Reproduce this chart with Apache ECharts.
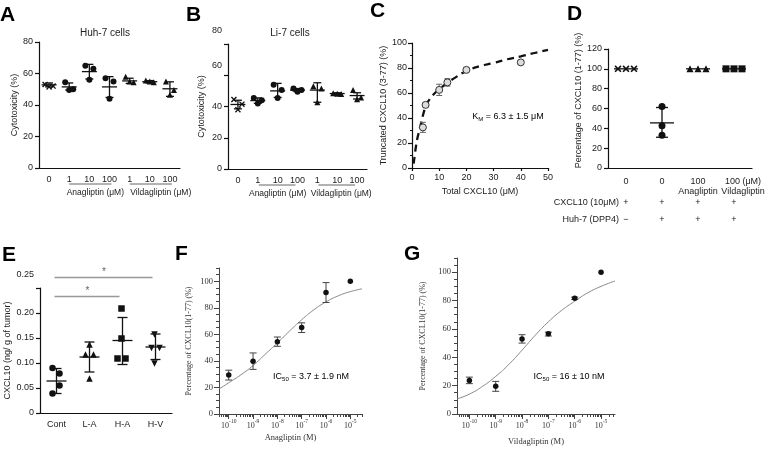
<!DOCTYPE html>
<html>
<head>
<meta charset="utf-8">
<script src="https://cdn.jsdelivr.net/npm/echarts@6.0.0/dist/echarts.min.js"></script>
<style>
  html, body { margin: 0; padding: 0; background: #fff; }
  #main { width: 766px; height: 454px; }
</style>
</head>
<body>
<div id="main"></div>
<script>
// ---------- data ----------
// A / B : cytotoxicity (%), three wells per group
const abTicks = ['0', '1', '10', '100', '1', '10', '100'];
const abGroups = [[1, 3, 'Anagliptin (μM)'], [4, 6, 'Vildagliptin (μM)']];
const abSymbols = ['x', 'circle', 'circle', 'circle', 'triangle', 'triangle', 'triangle'];

const huhVals = [[53, 52, 51.5], [54.5, 50, 49.5], [65, 63, 56], [57, 55, 44], [58, 54.5, 55], [55.5, 54.5, 55], [55, 49.5, 46.5]];
const huhMean = [52.8, 51.5, 61.2, 51.5, 55.3, 54.8, 50.3];
const huhSd = [[51.5, 54], [49.5, 54], [56.5, 65.8], [44.8, 58], [53.7, 57], [54, 55.5], [45.5, 54.7]];

const li7Vals = [[44.5, 41.5, 38], [45.5, 44, 42], [54, 50.5, 45.5], [51.5, 50.5, 49.5], [53, 51.5, 42.7], [48.5, 48, 48.2], [50.5, 45.8, 44.6]];
const li7Mean = [41.3, 43.8, 50, 50.5, 50.5, 48.3, 47];
const li7Sd = [[38.5, 44], [42, 45.5], [45.8, 54.8], [49.5, 51.5], [42.7, 55.2], [47.8, 48.8], [44.8, 48.8]];

// C : truncation vs total CXCL10
const cxclTotal = [4, 5, 10, 13, 20, 40];
const cxclTrunc = [32.5, 50.5, 62.5, 68.5, 78.5, 84.5];
const cxclErr = [4, 1.5, 4.5, 3, 1.5, 1.5];
const kmFitX = [0.6, 1, 1.5, 2, 2.7, 3, 4, 5, 6, 8, 10, 13, 16, 20, 25, 30, 35, 40, 45, 50];
const kmFitY = [3.5, 10, 18, 24, 30, 32.5, 42, 49, 53.5, 59, 63, 68, 72.5, 77.5, 81.5, 84, 87, 89.3, 92, 94.5];

// D : CXCL10 (1-77) remaining
const dTicks = ['0', '0', '100\nAnagliptin', '100 (μM)\nVildagliptin'];
const dSymbols = ['x', 'circle', 'triangle', 'rect'];
const dVals = [[100, 100, 100], [62, 42.5, 33], [100, 100, 100], [100, 100, 100]];
const dMean = [100, 45.5, 100, 100];
const dSd = [[100, 100], [31, 61], [100, 100], [100, 100]];
const dRowNames = ['CXCL10 (10μM)', 'Huh-7 (DPP4)'];
const dRowSigns = [['+', '−'], ['+', '+'], ['+', '+'], ['+', '+']];

// E : CXCL10 in tumour
const eTicks = ['Cont', 'L-A', 'H-A', 'H-V'];
const eSymbols = ['circle', 'triangle', 'rect', 'triangle'];
const eVals = [[0.090, 0.079, 0.055, 0.039], [0.137, 0.117, 0.117, 0.069], [0.209, 0.149, 0.109, 0.109], [0.157, 0.130, 0.130, 0.099]];
const eMean = [0.064, 0.112, 0.145, 0.132];
const eSd = [[0.039, 0.089], [0.082, 0.142], [0.097, 0.191], [0.107, 0.158]];
const eSig = [[0, 3, 0.271, '*'], [0, 2, 0.233, '*']];

// F / G : dose response
const concM = [1e-10, 1e-9, 1e-8, 1e-7, 1e-6, 1e-5];
const anaPct = [29.3, 39.8, 54.4, 65.2, 91.5, 100];
const anaSd = [[25.6, 33], [33.6, 46], [51, 58], [61.4, 68.7], [84, 99], [100, 100]];
const anaFitExp = [-10.4, -10, -9.5, -9, -8.5, -8, -7.5, -7, -6.5, -6, -5.5, -5, -4.52];
const anaFitPct = [18.8, 23.5, 29.5, 36.5, 45, 53.5, 62.5, 71, 78.5, 84.5, 89, 92.2, 94.3];
const vilPct = [23.7, 19.5, 52.8, 56.6, 81.7, 100];
const vilSd = [[21.4, 26], [16, 23], [50, 55.9], [55, 57.7], [80.8, 82.4], [100, 100]];
const vilFitExp = [-10.47, -10, -9.5, -9, -8.5, -8, -7.5, -7, -6.5, -6, -5.5, -5, -4.47];
const vilFitPct = [10.6, 14, 19.5, 26.5, 35, 45, 55.5, 65, 73, 79.5, 85.5, 90, 93.8];

// ---------- style helpers ----------
const SANS = "'Liberation Sans', Arial, sans-serif";
const SERIF = "'Liberation Serif', 'Times New Roman', serif";
const INK = '#222';
const XMARK = 'path://M0,1.6L1.6,0L5,3.4L8.4,0L10,1.6L6.6,5L10,8.4L8.4,10L5,6.6L1.6,10L0,8.4L3.4,5Z';

const chart = echarts.init(document.getElementById('main'));

function dots(ai, vals, symbols, jit, size, rot) {
  const data = [];
  vals.forEach((grp, i) => grp.forEach((v, j) => data.push({
    value: [i, v],
    symbol: symbols[i] === 'x' ? XMARK : symbols[i],
    symbolRotate: rot ? rot[i] : 0,
    symbolOffset: [jit[i][j], 0]
  })));
  return { type: 'scatter', xAxisIndex: ai, yAxisIndex: ai, symbolSize: size, data: data,
    itemStyle: { color: '#111', opacity: 1 }, z: 4, silent: true };
}

function bars(xi, yi, rows, st) {
  return {
    type: 'custom', xAxisIndex: xi, yAxisIndex: yi, z: 3, silent: true,
    data: rows, encode: { x: 0, y: 1 },
    renderItem: function (params, api) {
      const x = api.value(0);
      const m = api.coord([x, api.value(1)]);
      const lo = api.coord([x, api.value(2)]);
      const hi = api.coord([x, api.value(3)]);
      const style = { stroke: st.color, lineWidth: st.width };
      const seg = (x1, y1, x2, y2) => ({ type: 'line', shape: { x1, y1, x2, y2 }, style });
      const kids = [];
      if (st.mean) kids.push(seg(m[0] - st.mean, m[1], m[0] + st.mean, m[1]));
      if (lo[1] - hi[1] > 1) {
        kids.push(seg(m[0], lo[1], m[0], hi[1]));
        kids.push(seg(m[0] - st.cap, lo[1], m[0] + st.cap, lo[1]));
        kids.push(seg(m[0] - st.cap, hi[1], m[0] + st.cap, hi[1]));
      }
      return { type: 'group', children: kids };
    }
  };
}

function txt(x, y, s, align, size, fill) {
  return { type: 'text', x: x, y: y, style: { text: s, font: (size || 9) + 'px ' + SANS, fill: fill || INK, align: align || 'center', verticalAlign: 'middle' } };
}

function brackets(ai, groups, st) {
  return {
    type: 'custom', xAxisIndex: ai, yAxisIndex: ai, silent: true,
    data: groups.map(g => [g[0], 0]), encode: { x: 0, y: 1 },
    renderItem: function (params, api) {
      const k = params.dataIndex;
      const g = groups[k];
      const a = api.coord([g[0], 0]), b = api.coord([g[1], 0]);
      const y = a[1] + 16;
      return { type: 'group', children: [
        { type: 'line', shape: { x1: a[0] + st.l, y1: y, x2: b[0] + st.r, y2: y }, style: { stroke: '#666', lineWidth: 1 } },
        txt((a[0] + b[0]) / 2 + st.shift[k], y + 9, g[2], 'center', 8.5)
      ] };
    }
  };
}

function rowTable(ai, signs, names) {
  return {
    type: 'custom', xAxisIndex: ai, yAxisIndex: ai, silent: true,
    data: signs.map((s, i) => [i, 0]), encode: { x: 0, y: 1 },
    renderItem: function (params, api) {
      const i = params.dataIndex;
      const p = api.coord([i, 0]);
      const rowY = [35, 52];
      const kids = [];
      signs[i].forEach((s, r) => {
        kids.push(txt(p[0], p[1] + rowY[r], s, 'center', 9));
        if (i === 0) kids.push(txt(p[0] - 7, p[1] + rowY[r], names[r], 'right', 9));
      });
      return { type: 'group', children: kids };
    }
  };
}

function sigBars(ai, sig) {
  return {
    type: 'custom', xAxisIndex: ai, yAxisIndex: ai, silent: true,
    data: sig.map(s => [s[0], s[2]]), encode: { x: 0, y: 1 },
    renderItem: function (params, api) {
      const s = sig[params.dataIndex];
      const a = api.coord([s[0], s[2]]), b = api.coord([s[1], s[2]]);
      return { type: 'group', children: [
        { type: 'line', shape: { x1: a[0] - 2, y1: a[1], x2: b[0] - 3, y2: a[1] }, style: { stroke: '#999', lineWidth: 1.3 } },
        txt((a[0] + b[0]) / 2 - 2, a[1] - 5, s[3], 'center', 10, '#666')
      ] };
    }
  };
}

const axLine = { lineStyle: { color: '#111', width: 1.2 } };
const tickSt = { lineStyle: { color: '#111', width: 1.2 } };
const lbl = (size, font) => ({ fontSize: size, fontFamily: font || SANS, color: INK });
const nameSt = (size, font, extra) => Object.assign({ fontSize: size, fontFamily: font || SANS, color: INK }, extra || {});

function catX(gi, data, extra) {
  return Object.assign({
    type: 'category', gridIndex: gi, data: data,
    axisLine: axLine, axisTick: Object.assign({ alignWithLabel: true, length: 4 }, tickSt),
    axisLabel: Object.assign({ interval: 0, margin: 7 }, lbl(9)),
    splitLine: { show: false }
  }, extra || {});
}
function valY(gi, min, max, interval, name, gap, extra) {
  return Object.assign({
    type: 'value', gridIndex: gi, min: min, max: max, interval: interval,
    name: name, nameLocation: 'middle', nameGap: gap, nameRotate: 90, nameTextStyle: nameSt(9),
    axisLine: Object.assign({ show: true }, axLine), axisTick: Object.assign({ show: true, length: 4 }, tickSt),
    axisLabel: Object.assign({ margin: 6 }, lbl(9)),
    splitLine: { show: false }
  }, extra || {});
}

// log axes for F / G, plotted on log10 of the molar concentration
const decades = [-10, -9, -8, -7, -6, -5];
function logMinor(lo, hi) {
  const out = [];
  for (let d = -11; d <= -5; d++) for (let k = 2; k <= 9; k++) {
    const v = d + Math.log10(k);
    if (v > lo && v < hi) out.push(v);
  }
  return out;
}
const fiveSteps = [];
for (let v = 0; v <= 110; v += 5) fiveSteps.push(v);
const twentySteps = [0, 20, 40, 60, 80, 100];
const serifGray = '#333';

function logX(gi, lo, hi, name, gap) {
  return [{
    type: 'value', gridIndex: gi, min: lo, max: hi, position: 'bottom',
    name: name, nameLocation: 'middle', nameGap: gap, nameTextStyle: nameSt(8.5, SERIF, { color: serifGray }),
    axisLine: { lineStyle: { color: '#444', width: 1 } },
    axisTick: { length: 5, customValues: decades, lineStyle: { color: '#444', width: 1 } },
    axisLabel: { customValues: decades, margin: 5, fontSize: 8, fontFamily: SERIF, color: serifGray,
      formatter: v => '10{s|' + v + '}',
      rich: { s: { fontSize: 5.5, fontFamily: SERIF, color: serifGray, padding: [0, 0, 7, 0] } } },
    splitLine: { show: false }
  }, {
    type: 'value', gridIndex: gi, min: lo, max: hi, position: 'bottom',
    axisLine: { show: false },
    axisTick: { length: 3, customValues: logMinor(lo, hi), lineStyle: { color: '#444', width: 1 } },
    axisLabel: { show: false }, splitLine: { show: false }
  }];
}
function pctY(gi, name, gap) {
  return [{
    type: 'value', gridIndex: gi, min: 0, max: 110, position: 'left',
    name: name, nameLocation: 'middle', nameGap: gap, nameRotate: 90, nameTextStyle: nameSt(8, SERIF, { color: serifGray }),
    axisLine: { show: true, lineStyle: { color: '#444', width: 1 } },
    axisTick: { show: true, length: 5, customValues: twentySteps, lineStyle: { color: '#444', width: 1 } },
    axisLabel: { customValues: twentySteps, margin: 6, fontSize: 8.5, fontFamily: SERIF, color: serifGray },
    splitLine: { show: false }
  }, {
    type: 'value', gridIndex: gi, min: 0, max: 110, position: 'left',
    axisLine: { show: false },
    axisTick: { show: true, length: 3, customValues: fiveSteps, lineStyle: { color: '#444', width: 1 } },
    axisLabel: { show: false }, splitLine: { show: false }
  }];
}

const grid = [
  { left: 39, top: 42, width: 141, height: 126 },   // A
  { left: 228, top: 44, width: 139, height: 125 },  // B
  { left: 412, top: 43, width: 136, height: 125 },  // C
  { left: 608, top: 49, width: 144, height: 119 },  // D
  { left: 40, top: 288, width: 132, height: 125 },  // E
  { left: 219, top: 268, width: 143, height: 146 }, // F
  { left: 457, top: 258, width: 158, height: 156 }  // G
].map(g => Object.assign({ outerBoundsMode: 'none', containLabel: false }, g));

const shiftUp = { up13: { padding: [0, 0, 26, 0], fontSize: 9, fontFamily: SANS, color: INK },
                  up10: { padding: [0, 0, 20, 0], fontSize: 9, fontFamily: SANS, color: INK } };

const xAxis = [
  catX(0, abTicks),
  catX(1, abTicks),
  { type: 'value', gridIndex: 2, min: 0, max: 50, interval: 10,
    name: 'Total CXCL10 (μM)', nameLocation: 'middle', nameGap: 19, nameTextStyle: nameSt(9),
    axisLine: axLine, axisTick: Object.assign({ length: 3 }, tickSt),
    axisLabel: Object.assign({ margin: 5 }, lbl(9)), splitLine: { show: false } },
  catX(3, dTicks, { axisLabel: Object.assign({ interval: 0, margin: 9, lineHeight: 10,
    formatter: (v, i) => i === 3 ? v.split('\n').map(s => '{sh|' + s + '}').join('\n') : v,
    rich: { sh: { padding: [0, 0, 0, 18], fontSize: 9, fontFamily: SANS, color: INK, lineHeight: 10 } } }, lbl(9)) }),
  catX(4, eTicks)
].concat(logX(5, -10.4, -4.52, 'Anagliptin (M)', 19), logX(6, -10.47, -4.47, 'Vildagliptin (M)', 23));

const yAxis = [
  valY(0, 0, 80, 20, 'Cytotoxicity (%)', 19),
  valY(1, 0, 80, 20, 'Cytotoxicity (%)', 22, { axisLabel: Object.assign({ margin: 6,
    formatter: v => v === 80 ? '{up13|80}' : v === 60 ? '{up10|60}' : String(v), rich: shiftUp }, lbl(9)) }),
  valY(2, 0, 100, 20, 'Truncated CXCL10 (3-77) (%)', 22, { minorTick: { show: true, splitNumber: 2, length: 2, lineStyle: { color: '#111' } }, axisLabel: Object.assign({ margin: 5 }, lbl(9)) }),
  valY(3, 0, 120, 20, 'Percentage of CXCL10 (1-77) (%)', 23, { nameTextStyle: nameSt(9, SANS, { padding: [0, 0, 0, 16] }) }),
  valY(4, 0, 0.25, 0.05, 'CXCL10 (ng/ g of tumor)', 28, { axisLabel: Object.assign({ margin: 6,
    formatter: v => v === 0 ? '0' : (Math.abs(v - 0.25) < 1e-9 ? '{up13|0.25}' : v.toFixed(2)), rich: shiftUp }, lbl(9)) })
].concat(pctY(5, 'Percentage of CXCL10(1-77) (%)', 26), pctY(6, 'Percentage of CXCL10(1-77) (%)', 30));

const jit3 = abTicks.map(() => [-4, 4, 0]);
const dJit = [[-8, 0, 8], [0, 0, 0], [-8, 0, 8], [-8, 0, 8]];
const eJit = [[-4, 3, 3, -4], [0, -4, 4, 0], [-1, -1, -5, 3], [-1, -4, 4, -1]];

const series = [
  // A
  dots(0, huhVals, abSymbols, jit3, 6),
  bars(0, 0, huhMean.map((m, i) => [i, m, huhSd[i][0], huhSd[i][1]]), { mean: 7.5, cap: 4, width: 1.3, color: '#111' }),
  brackets(0, abGroups, { l: 0, r: 2, shift: [6, 11] }),
  // B
  dots(1, li7Vals, abSymbols, jit3, 6),
  bars(1, 1, li7Mean.map((m, i) => [i, m, li7Sd[i][0], li7Sd[i][1]]), { mean: 7.5, cap: 4, width: 1.3, color: '#111' }),
  brackets(1, abGroups, { l: 1, r: -2, shift: [0, 4] }),
  // C
  { type: 'line', xAxisIndex: 2, yAxisIndex: 2, data: kmFitX.map((x, i) => [x, kmFitY[i]]), smooth: true,
    showSymbol: false, silent: true, lineStyle: { color: '#111', width: 2.3, type: [7, 5] }, z: 2 },
  bars(2, 2, cxclTotal.map((x, i) => [x, cxclTrunc[i], cxclTrunc[i] - cxclErr[i], cxclTrunc[i] + cxclErr[i]]), { mean: 0, cap: 3, width: 1, color: '#666' }),
  { type: 'scatter', xAxisIndex: 2, yAxisIndex: 2, data: cxclTotal.map((x, i) => [x, cxclTrunc[i]]), symbolSize: 7,
    itemStyle: { color: '#ddd', borderColor: '#333', borderWidth: 1, opacity: 1 }, silent: true, z: 4 },
  // D
  dots(3, dVals, dSymbols, dJit, 7),
  bars(3, 3, dMean.map((m, i) => [i, m, dSd[i][0], dSd[i][1]]), { mean: 12, cap: 6, width: 1.3, color: '#111' }),
  rowTable(3, dRowSigns, dRowNames),
  // E
  dots(4, eVals, eSymbols, eJit, 6.5, [0, 0, 0, 180]),
  bars(4, 4, eMean.map((m, i) => [i, m, eSd[i][0], eSd[i][1]]), { mean: 10, cap: 5, width: 1.3, color: '#111' }),
  sigBars(4, eSig),
  // F
  { type: 'line', xAxisIndex: 5, yAxisIndex: 5, data: anaFitExp.map((x, i) => [x, anaFitPct[i]]), smooth: true,
    showSymbol: false, silent: true, lineStyle: { color: '#888', width: 1 }, z: 2 },
  bars(5, 5, concM.map((c, i) => [Math.log10(c), anaPct[i], anaSd[i][0], anaSd[i][1]]), { mean: 0, cap: 3.5, width: 1, color: '#444' }),
  { type: 'scatter', xAxisIndex: 5, yAxisIndex: 5, data: concM.map((c, i) => [Math.log10(c), anaPct[i]]), symbolSize: 5.5,
    itemStyle: { color: '#111', opacity: 1 }, silent: true, z: 4 },
  // G
  { type: 'line', xAxisIndex: 7, yAxisIndex: 7, data: vilFitExp.map((x, i) => [x, vilFitPct[i]]), smooth: true,
    showSymbol: false, silent: true, lineStyle: { color: '#888', width: 1 }, z: 2 },
  bars(7, 7, concM.map((c, i) => [Math.log10(c), vilPct[i], vilSd[i][0], vilSd[i][1]]), { mean: 0, cap: 3.5, width: 1, color: '#444' }),
  { type: 'scatter', xAxisIndex: 7, yAxisIndex: 7, data: concM.map((c, i) => [Math.log10(c), vilPct[i]]), symbolSize: 5.5,
    itemStyle: { color: '#111', opacity: 1 }, silent: true, z: 4 }
];

function letter(s, x, y) {
  return { type: 'text', x: x, y: y, style: { text: s, font: 'bold 21px ' + SANS, fill: '#000', align: 'left', verticalAlign: 'top' } };
}
function richNote(x, y, main, sub, rest) {
  return { type: 'text', x: x, y: y, style: {
    text: '{n|' + main + '}{s|' + sub + '}{n|' + rest + '}', align: 'center', verticalAlign: 'middle',
    rich: { n: { fontSize: 9, fontFamily: SANS, color: INK }, s: { fontSize: 6, fontFamily: SANS, color: INK, padding: [5, 0, 0, 0] } } } };
}

const graphic = [
  letter('A', 0, 5), letter('B', 186, 5), letter('C', 370, 1), letter('D', 567, 4),
  letter('E', 2, 245), letter('F', 175, 244), letter('G', 404, 244),
  txt(105, 33, 'Huh-7 cells', 'center', 10),
  txt(290, 33, 'Li-7 cells', 'center', 10),
  richNote(508, 117, 'K', 'M', ' = 6.3 ± 1.5 μM'),
  richNote(311, 377, 'IC', '50', ' = 3.7 ± 1.9 nM'),
  richNote(569, 377, 'IC', '50', ' = 16 ± 10 nM')
];

chart.setOption({
  animation: false,
  backgroundColor: '#fff',
  grid: grid,
  xAxis: xAxis,
  yAxis: yAxis,
  series: series,
  graphic: graphic
});
</script>
</body>
</html>
